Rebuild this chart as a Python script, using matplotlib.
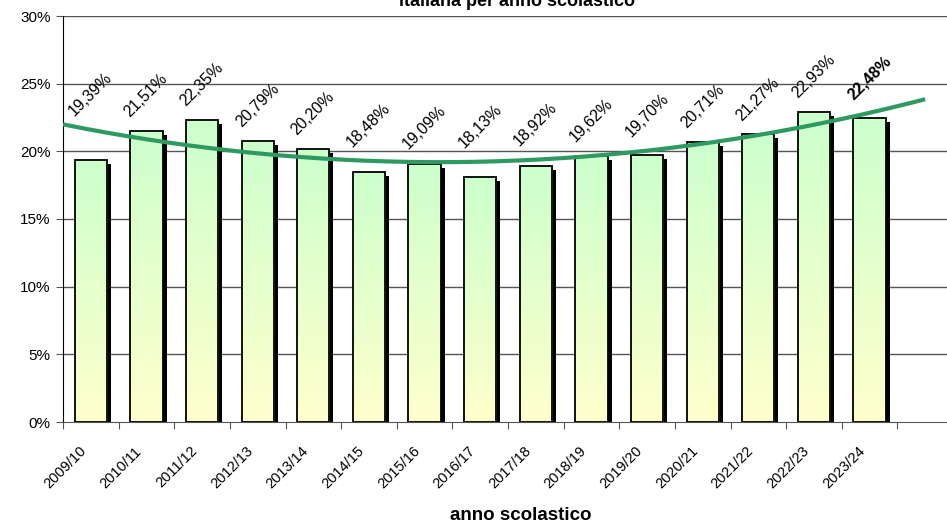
import numpy as np
import matplotlib
matplotlib.use("Agg")
import matplotlib.pyplot as plt
import matplotlib.transforms as mtransforms
from matplotlib.colors import LinearSegmentedColormap

plt.rcParams["font.family"] = ["Liberation Sans", "DejaVu Sans"]

YEARS = [
    "2009/10", "2010/11", "2011/12", "2012/13", "2013/14",
    "2014/15", "2015/16", "2016/17", "2017/18", "2018/19",
    "2019/20", "2020/21", "2021/22", "2022/23", "2023/24",
]
VALUES = [
    19.39, 21.51, 22.35, 20.79, 20.20,
    18.48, 19.09, 18.13, 18.92, 19.62,
    19.70, 20.71, 21.27, 22.93, 22.48,
]
Y_TICKS = [0, 5, 10, 15, 20, 25, 30]

BAR_WIDTH = 0.58
TREND_COLOR = "#2e9a62"


def fmt(v):
    return f"{v:.2f}".replace(".", ",") + "%"


def main():
    fig = plt.figure(figsize=(9.47, 5.28), dpi=100)
    ax = fig.add_axes([63 / 947, 1 - 422 / 528, 890 / 947, 406 / 528])

    x = np.arange(len(VALUES))
    y = np.array(VALUES)

    # grid
    for t in Y_TICKS[1:]:
        ax.axhline(t, color="#555555", lw=1.0, zorder=0)

    cmap = LinearSegmentedColormap.from_list("gy", ["#ffffcc", "#ccffcc"])
    grad = np.linspace(0, 1, 256).reshape(-1, 1)
    shadow_tr = mtransforms.offset_copy(ax.transData, fig=fig, x=4, y=-4, units="dots")

    for xi, v in zip(x, y):
        x0 = xi - BAR_WIDTH / 2
        ax.bar(xi, v, width=BAR_WIDTH, color="black", transform=shadow_tr, zorder=1)
        bar = ax.bar(xi, v, width=BAR_WIDTH, facecolor="none",
                     edgecolor="black", lw=1.3, zorder=3)[0]
        im = ax.imshow(grad, cmap=cmap, origin="lower", aspect="auto",
                       extent=[x0, x0 + BAR_WIDTH, 0, v], zorder=2)
        im.set_clip_path(bar)
    ax.set_xlim(-0.5, 15.5)
    ax.set_ylim(0, 30)

    # polynomial trend (order 2)
    coef = np.polyfit(x, y, 2)
    xt = np.linspace(-0.5, 15.0, 200)
    ax.plot(xt, np.polyval(coef, xt), color=TREND_COLOR, lw=3, zorder=4,
            solid_capstyle="butt")

    # data labels
    label_tr = mtransforms.offset_copy(ax.transData, fig=fig, x=0, y=13, units="dots")
    for i, (xi, v) in enumerate(zip(x, y)):
        ly = max(v, np.polyval(coef, xi))
        ax.text(xi - BAR_WIDTH / 2, ly, fmt(v), rotation=45, rotation_mode="anchor",
                ha="left", va="baseline", fontsize=11.5, transform=label_tr,
                fontweight="bold" if i == len(y) - 1 else "normal", zorder=5)

    ax.set_yticks(Y_TICKS)
    ax.set_yticklabels([f"{t}%" for t in Y_TICKS], fontsize=11)
    ax.set_xticks(np.arange(-0.5, 16, 1.0))
    ax.set_xticklabels([])
    ax.tick_params(axis="x", length=5, color="#555555")
    ax.tick_params(axis="y", length=5, color="#555555", pad=4)

    # category labels
    cat_tr = mtransforms.offset_copy(ax.get_xaxis_transform(), fig=fig,
                                     x=-12, y=-22, units="dots")
    for xi, name in zip(x, YEARS):
        ax.text(xi, 0, name, rotation=45, rotation_mode="anchor", ha="right",
                va="top", fontsize=10.5, transform=cat_tr, clip_on=False)

    for s in ["top", "right"]:
        ax.spines[s].set_visible(False)
    ax.spines["left"].set_color("black")
    ax.spines["bottom"].set_color("#555555")

    fig.text(517 / 947, 1 - 6.5 / 528, "italiana per anno scolastico",
             ha="center", va="baseline", fontsize=13, fontweight="bold")
    fig.text(521 / 947, 1 - 516 / 528, "anno scolastico",
             ha="center", va="center", fontsize=13.5, fontweight="bold")

    fig.savefig("out.png", dpi=100)


if __name__ == "__main__":
    main()
